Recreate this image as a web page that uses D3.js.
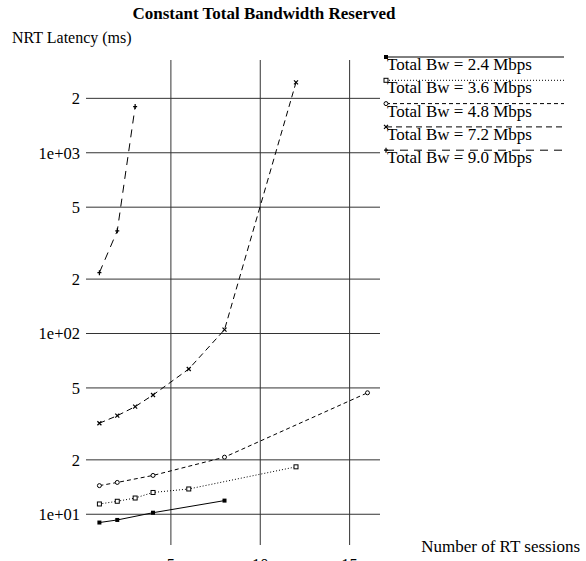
<!DOCTYPE html>
<html>
<head>
<meta charset="utf-8">
<script src="https://cdn.jsdelivr.net/npm/d3@7"></script>
<style>
  html, body { margin: 0; padding: 0; background: #fff; }
  svg { display: block; }
  text { font-family: "Liberation Serif", "Times New Roman", serif; fill: #000; }
</style>
</head>
<body>
<svg id="chart" width="586" height="561"></svg>
<script>
// Number of RT sessions per series
const sessions24 = [1, 2, 4, 8];
const sessions36 = [1, 2, 3, 4, 6, 12];
const sessions48 = [1, 2, 4, 8, 16];
const sessions72 = [1, 2, 3, 4, 6, 8, 12];
const sessions90 = [1, 2, 3];

// NRT latency (ms) per series
const latency24 = [9.0, 9.3, 10.2, 11.9];
const latency36 = [11.4, 11.8, 12.3, 13.2, 13.8, 18.3];
const latency48 = [14.4, 15.0, 16.4, 20.7, 47.0];
const latency72 = [31.9, 35.1, 39.4, 45.7, 63.6, 105, 2450];
const latency90 = [217, 370, 1800];

const seriesNames = ["Total Bw = 2.4 Mbps", "Total Bw = 3.6 Mbps", "Total Bw = 4.8 Mbps",
                     "Total Bw = 7.2 Mbps", "Total Bw = 9.0 Mbps"];

const xTicks = [5, 10, 15];
const xTickLabels = ["5", "10", "15"];
const yTicks = [10, 20, 50, 100, 200, 500, 1000, 2000];
const yTickLabels = ["1e+01", "2", "5", "1e+02", "2", "5", "1e+03", "2"];

const series = [
  { name: seriesNames[0], xs: sessions24, ys: latency24, dash: null,  marker: "fsquare" },
  { name: seriesNames[1], xs: sessions36, ys: latency36, dash: "1,2", marker: "osquare" },
  { name: seriesNames[2], xs: sessions48, ys: latency48, dash: "4,3", marker: "circle" },
  { name: seriesNames[3], xs: sessions72, ys: latency72, dash: "6,4", marker: "cross" },
  { name: seriesNames[4], xs: sessions90, ys: latency90, dash: "8,6", marker: "plus" }
];

const svg = d3.select("#chart");

const plotLeft = 86, plotRight = 380, plotTop = 60, plotBottom = 545;
const x = d3.scaleLinear().domain([0.25, 16.7]).range([plotLeft, plotRight]);
const y = d3.scaleLog().domain([6.76, 3260]).range([plotBottom, plotTop]);

// Title and axis titles
svg.append("text").attr("x", 264).attr("y", 19).attr("text-anchor", "middle")
  .style("font-size", "17px").style("font-weight", "bold")
  .text("Constant Total Bandwidth Reserved");
svg.append("text").attr("x", 12).attr("y", 43).style("font-size", "16px")
  .text("NRT Latency (ms)");
svg.append("text").attr("x", 580).attr("y", 552).attr("text-anchor", "end")
  .style("font-size", "17px").text("Number of RT sessions");

// Grid
const grid = svg.append("g").attr("stroke", "#333").attr("stroke-width", 1);
grid.selectAll("line.h").data(yTicks).join("line").attr("class", "h")
  .attr("x1", plotLeft).attr("x2", plotRight)
  .attr("y1", d => y(d)).attr("y2", d => y(d));
grid.selectAll("line.v").data(xTicks).join("line").attr("class", "v")
  .attr("x1", d => x(d)).attr("x2", d => x(d))
  .attr("y1", plotTop).attr("y2", plotBottom);

// Tick labels
svg.append("g").selectAll("text").data(yTicks).join("text")
  .attr("x", 80).attr("y", d => y(d)).attr("dy", "0.35em")
  .attr("text-anchor", "end").style("font-size", "16.5px")
  .text((d, i) => yTickLabels[i]);
svg.append("g").selectAll("text").data(xTicks).join("text")
  .attr("x", d => x(d)).attr("y", 570)
  .attr("text-anchor", "middle").style("font-size", "16.5px")
  .text((d, i) => xTickLabels[i]);

function drawMarker(g, type, cx, cy) {
  const s = 2;
  if (type === "fsquare") {
    g.append("rect").attr("x", cx - s).attr("y", cy - s).attr("width", 2 * s).attr("height", 2 * s)
      .attr("fill", "#000");
  } else if (type === "osquare") {
    g.append("rect").attr("x", cx - s).attr("y", cy - s).attr("width", 2 * s).attr("height", 2 * s)
      .attr("fill", "#fff").attr("stroke", "#000").attr("stroke-width", 1);
  } else if (type === "circle") {
    g.append("circle").attr("cx", cx).attr("cy", cy).attr("r", 2)
      .attr("fill", "#fff").attr("stroke", "#000").attr("stroke-width", 1);
  } else if (type === "cross") {
    g.append("path").attr("d", `M${cx - 2},${cy - 2}L${cx + 2},${cy + 2}M${cx - 2},${cy + 2}L${cx + 2},${cy - 2}`)
      .attr("stroke", "#000").attr("stroke-width", 1.2);
  } else {
    g.append("path").attr("d", `M${cx - 2},${cy}L${cx + 2},${cy}M${cx},${cy - 2.5}L${cx},${cy + 2.5}`)
      .attr("stroke", "#000").attr("stroke-width", 1.2);
  }
}

// Series lines and markers
const line = d3.line().x(d => x(d[0])).y(d => y(d[1]));
series.forEach(s => {
  const pts = s.xs.map((v, i) => [v, s.ys[i]]);
  svg.append("path").datum(pts).attr("d", line)
    .attr("fill", "none").attr("stroke", "#000").attr("stroke-width", 1)
    .attr("stroke-dasharray", s.dash);
  const g = svg.append("g");
  pts.forEach(p => drawMarker(g, s.marker, x(p[0]), y(p[1])));
});

// Legend
const legend = svg.append("g");
series.forEach((s, i) => {
  const ly = 57 + i * 23.3;
  legend.append("line").attr("x1", 386).attr("x2", 564).attr("y1", ly).attr("y2", ly)
    .attr("stroke", "#000").attr("stroke-width", 1).attr("stroke-dasharray", s.dash);
  drawMarker(legend, s.marker, 386, ly);
  legend.append("text").attr("x", 387).attr("y", ly + 13)
    .style("font-size", "17px").text(s.name);
});
</script>
</body>
</html>
